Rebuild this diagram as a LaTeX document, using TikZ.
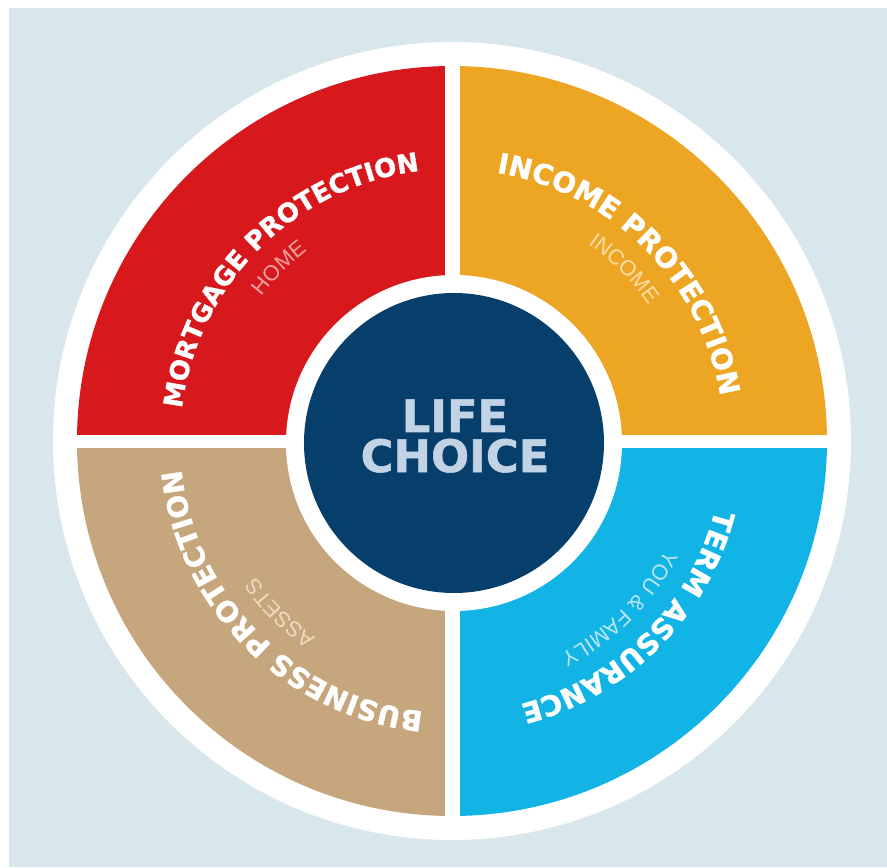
\documentclass[tikz,border=0pt]{standalone}
\usepackage{fontspec}
\setmainfont{Liberation Sans}
\newfontfamily\heavyfont{DejaVu Sans}[BoldFeatures={FakeBold=1.2}]
\usetikzlibrary{decorations.text}

\definecolor{backdrop}{HTML}{D7E7EB}
\definecolor{mortgage}{HTML}{D7191E}
\definecolor{income}{HTML}{EDA623}
\definecolor{term}{HTML}{12B4E6}
\definecolor{business}{HTML}{C6A67C}
\definecolor{hub}{HTML}{063F6B}
\definecolor{hubtext}{HTML}{C3D3E6}
\definecolor{homesub}{HTML}{F2A3A1}
\definecolor{incomesub}{HTML}{FADDA8}
\definecolor{familysub}{HTML}{B9E5F6}
\definecolor{assetssub}{HTML}{EDDCC3}

\newcommand\titlefont{\heavyfont\bfseries\fontsize{16}{16}\selectfont}
\newcommand\titlefontsm{\heavyfont\bfseries\fontsize{14.8}{14.8}\selectfont}
\newcommand\subfont{\fontsize{12.3}{12.3}\selectfont}

\tikzset{
  bandtext/.style 2 args={decorate, decoration={text along path, text align=center,
      text color=white, text={|#1|#2}}},
  subtext/.style 2 args={decorate, decoration={text along path, text align=center,
      text color=#1, text={|\subfont|#2}}},
}

\begin{document}
\begin{tikzpicture}[x=0.02cm, y=0.02cm]
    % page and backdrop
    \fill[white] (-452,-426) rectangle (435,441);
    \fill[backdrop] (-443,-426) rectangle (435,433);
    \fill[white] (0,0) circle[radius=399];
    % quadrants
    \fill[mortgage] (0,0) -- (180:375) arc[start angle=180, end angle=90, radius=375] -- cycle;
    \fill[income] (0,0) -- (90:375) arc[start angle=90, end angle=0, radius=375] -- cycle;
    \fill[term] (0,0) -- (0:375) arc[start angle=0, end angle=-90, radius=375] -- cycle;
    \fill[business] (0,0) -- (-90:375) arc[start angle=-90, end angle=-180, radius=375] -- cycle;
    % gaps
    \fill[white] (-7,-385) rectangle (8,385);
    \fill[white] (-385,-7) rectangle (385,6);
    % hub
    \fill[white] (2,-2) circle[radius=168];
    \fill[hub] (2,-2) circle[radius=150];
    \node[align=center, text=hubtext, inner sep=0pt,
          font=\heavyfont\bfseries\fontsize{25.5}{22.8}\selectfont] (life) at (3,5) {LIFE\\CHOICE};
    % titles along the quadrants
    \path[bandtext={\titlefontsm}{MORTGAGE PROTECTION}] (190:272) arc[start angle=190, end angle=80, radius=272];
    \path[bandtext={\titlefont}{INCOME PROTECTION}] (100:272) arc[start angle=100, end angle=-10, radius=272];
    \path[bandtext={\titlefont}{TERM ASSURANCE}] (10:272) arc[start angle=10, end angle=-100, radius=272];
    \path[bandtext={\titlefont}{BUSINESS PROTECTION}] (-80:272) arc[start angle=-80, end angle=-190, radius=272];
    \path[subtext={homesub}{HOME}] (190:239) arc[start angle=190, end angle=80, radius=239];
    \path[subtext={incomesub}{INCOME}] (100:239) arc[start angle=100, end angle=-10, radius=239];
    \path[subtext={familysub}{YOU {\&} FAMILY}] (10:239) arc[start angle=10, end angle=-100, radius=239];
    \path[subtext={assetssub}{ASSETS}] (-80:239) arc[start angle=-80, end angle=-190, radius=239];
\end{tikzpicture}
\end{document}
